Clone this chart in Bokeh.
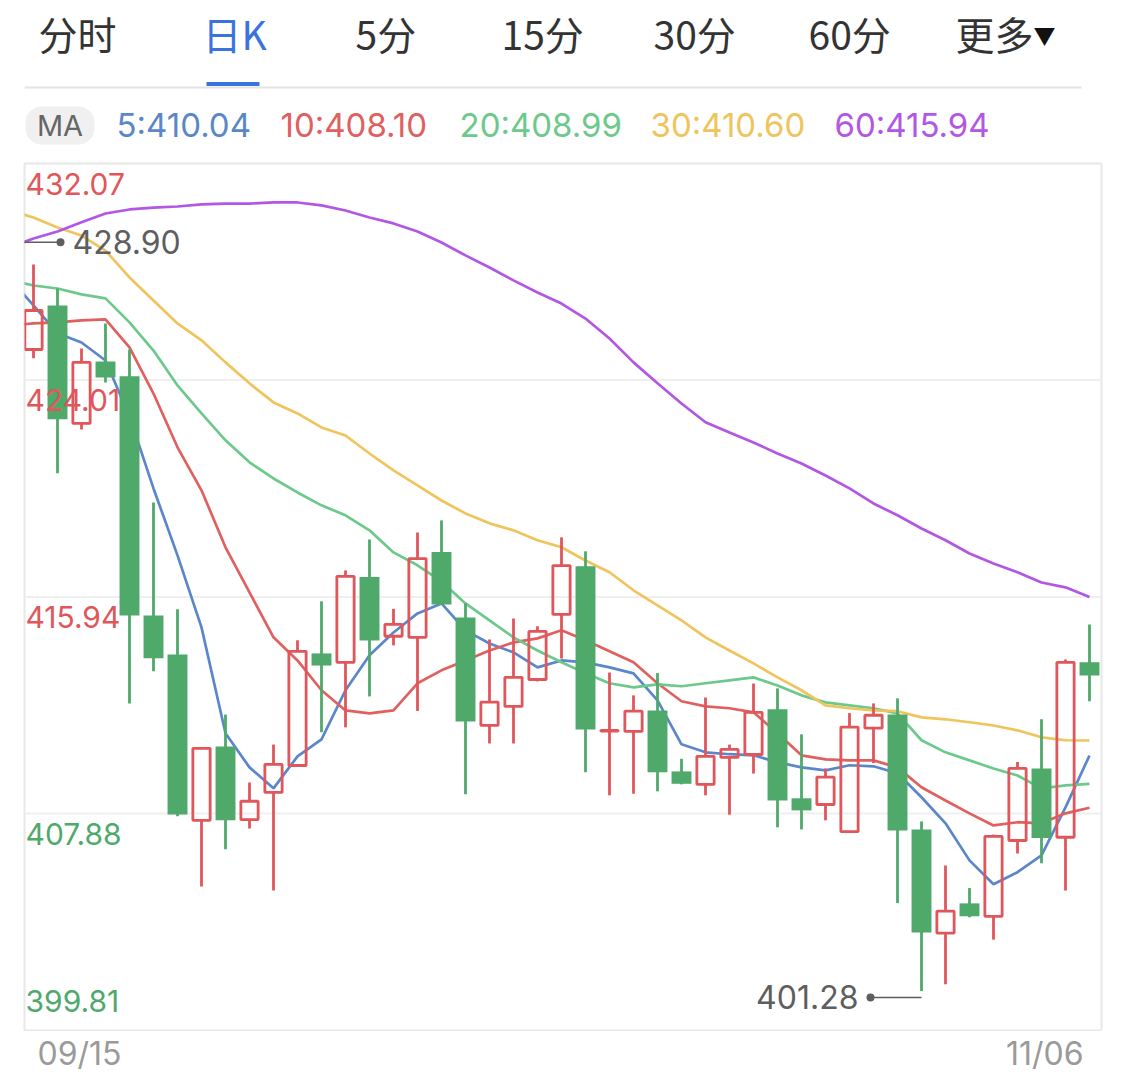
import numpy as np
from bokeh.plotting import figure
from bokeh.layouts import column
from bokeh.models import Range1d
from bokeh.core.properties import value
from bokeh.embed import file_html
from bokeh.resources import INLINE

# ------------------------------------------------------------------ data
TABS = ["分时", "日K", "5分", "15分", "30分", "60分", "更多"]
MORE_ARROW = "▼"
ACTIVE_TAB = 1

MA_PERIODS = [5, 10, 20, 30, 60]
MA_LAST = ["410.04", "408.10", "408.99", "410.60", "415.94"]

OPEN = [425.15, 426.79, 422.40, 424.70, 424.15, 415.25, 413.80, 407.63, 410.38, 407.66,
        408.67, 409.67, 413.84, 413.51, 416.68, 414.48, 414.44, 417.61, 415.18, 411.16,
        411.87, 412.87, 415.29, 417.08, 410.95, 410.94, 411.72, 409.45, 408.97, 409.97,
        410.08, 411.76, 408.45, 408.22, 407.21, 411.06, 411.57, 407.29, 403.43, 404.54,
        404.06, 406.88, 409.56, 407.00, 413.51]
HIGH = [428.31, 427.42, 425.19, 426.12, 425.15, 419.46, 415.48, 410.31, 411.57, 409.04,
        410.45, 414.33, 415.78, 416.93, 418.08, 415.50, 418.34, 418.79, 415.71, 414.36,
        415.14, 414.85, 418.16, 417.64, 413.13, 412.28, 413.11, 409.92, 412.20, 410.45,
        412.72, 412.54, 410.83, 409.56, 411.62, 411.98, 412.17, 407.59, 405.95, 405.11,
        407.10, 409.80, 411.39, 413.61, 414.92]
LOW = [424.82, 420.54, 422.17, 423.92, 411.98, 413.18, 407.78, 405.17, 406.55, 407.33,
       405.02, 409.67, 410.91, 411.09, 412.24, 414.14, 411.70, 415.66, 408.60, 410.49,
       410.49, 412.80, 413.65, 409.42, 408.56, 408.62, 408.71, 408.97, 408.56, 407.84,
       409.37, 407.37, 407.29, 407.63, 407.21, 409.76, 404.55, 401.28, 401.53, 404.02,
       403.19, 406.40, 406.03, 405.02, 412.06]
CLOSE = [426.60, 422.55, 424.67, 424.11, 415.25, 413.66, 407.85, 410.31, 407.63, 408.34,
         409.71, 413.92, 413.39, 416.71, 414.32, 414.92, 417.37, 415.66, 411.31, 412.03,
         412.95, 414.66, 417.11, 411.01, 410.98, 411.69, 409.42, 408.99, 410.01, 410.27,
         411.65, 408.37, 408.00, 409.24, 411.10, 411.54, 407.25, 403.46, 404.25, 404.06,
         407.03, 409.56, 406.97, 413.51, 413.02]

# moving averages, first value belongs to the day just left of the view (index -1)
MA5 = [427.79, 426.79, 425.75, 425.41, 424.74, 422.66, 419.98, 417.49, 414.81, 410.87,
       409.60, 408.82, 410.01, 410.64, 412.47, 413.77, 414.62, 415.33, 415.70, 414.70,
       414.21, 413.88, 413.32, 413.58, 413.51, 413.32, 413.10, 412.09, 410.46, 410.16,
       410.09, 410.05, 409.79, 409.60, 409.49, 409.68, 409.64, 409.38, 408.49, 407.52,
       406.14, 405.25, 405.70, 406.33, 408.11, 410.04]
MA10 = [426.04, 426.12, 426.16, 426.23, 426.27, 425.23, 423.51, 421.51, 419.91, 417.79,
        416.11, 414.44, 413.58, 412.47, 411.72, 411.61, 411.72, 412.73, 413.21, 413.58,
        413.95, 414.25, 414.40, 414.70, 414.33, 413.92, 413.51, 412.73, 412.06, 411.87,
        411.80, 411.65, 410.87, 410.05, 409.90, 409.86, 409.86, 409.60, 408.86, 408.37,
        407.89, 407.44, 407.56, 407.52, 407.89, 408.10]
MA20 = [427.72, 427.53, 427.42, 427.20, 427.05, 426.16, 425.11, 423.81, 422.77, 421.77,
        420.95, 420.35, 419.83, 419.35, 418.98, 418.42, 417.60, 417.12, 416.52, 415.70,
        415.07, 414.44, 413.95, 413.51, 413.10, 412.73, 412.58, 412.69, 412.62, 412.73,
        412.84, 412.95, 412.65, 412.28, 412.02, 411.91, 411.80, 411.61, 410.61, 410.16,
        409.86, 409.56, 409.30, 408.82, 408.93, 408.99]
MA30 = [430.32, 430.06, 429.69, 429.39, 428.83, 427.83, 426.97, 426.12, 425.49, 424.67,
        423.89, 423.18, 422.77, 422.25, 421.95, 421.28, 420.65, 420.09, 419.53, 419.05,
        418.68, 418.42, 418.05, 417.79, 417.30, 416.86, 416.19, 415.63, 415.07, 414.44,
        413.95, 413.47, 412.95, 412.47, 411.91, 411.80, 411.72, 411.69, 411.46, 411.39,
        411.28, 411.16, 410.98, 410.72, 410.61, 410.60]
MA60 = [428.95, 429.28, 429.54, 429.88, 430.21, 430.36, 430.43, 430.47, 430.55, 430.58,
        430.58, 430.62, 430.62, 430.51, 430.32, 430.06, 429.84, 429.54, 429.13, 428.65,
        428.20, 427.72, 427.27, 426.86, 426.30, 425.56, 424.67, 423.89, 423.14, 422.44,
        422.06, 421.69, 421.28, 420.91, 420.46, 419.98, 419.42, 418.98, 418.49, 418.05,
        417.56, 417.19, 416.86, 416.48, 416.30, 415.94]

Y_TICKS = [432.07, 424.01, 415.94, 407.88, 399.81]
Y_TICK_LABELS = ["432.07", "424.01", "415.94", "407.88", "399.81"]
DATE_LABELS = ["09/15", "11/06"]

MAX_HIGH = 428.90      # highest high, on the day just left of the view
MAX_HIGH_IDX = -1
MIN_LOW = min(LOW)
MIN_LOW_IDX = int(np.argmin(LOW))

# ------------------------------------------------------------------ style / layout
FL, FR = 24, 1101           # frame left / right in page pixels
FRAME_H = 867
W = FR + 16
RED = "#E0565A"
GREEN = "#4EA96B"
MA_COLORS = ["#5B87CA", "#E0605F", "#6DC98B", "#F0C45C", "#B257E3"]
NUM_FONT = value("Inter")
CJK_FONT = value("Noto Sans CJK SC")


def strip(height):
    f = figure(width=W, height=height, x_range=Range1d(FL, FR), y_range=Range1d(height, 0),
               x_axis_location=None, y_axis_location=None, toolbar_location=None,
               output_backend="svg", min_border_left=FL, min_border_right=W - FR,
               min_border_top=0, min_border_bottom=0, outline_line_color=None)
    f.grid.visible = False
    return f


# ------------------------------------------------------------------ header
HDR_H = 162
hdr = strip(HDR_H)

TAB_X = [38, 202, 355, 501, 653, 808, 955]
tab_colors = ["#3A72DE" if i == ACTIVE_TAB else "#333333" for i in range(len(TABS))]
hdr.text(x=TAB_X, y=[32] * len(TABS), text=TABS, text_color=tab_colors,
         text_font=CJK_FONT, text_font_size="39px", text_baseline="middle", text_align="left")
hdr.text(x=[1044], y=[33], text=[MORE_ARROW], text_color="#111111", text_font=CJK_FONT,
         text_font_size="22px", text_baseline="middle", text_align="center")
hdr.quad(left=[206], right=[259], top=[81.5], bottom=[85.5], fill_color="#3A72DE", line_color=None)
hdr.segment(x0=[FL], y0=[87], x1=[1081], y1=[87], line_color="#E4E4E4", line_width=2)


def rounded_rect(x0, y0, x1, y1, r, n=10):
    xs, ys = [], []
    for cx, cy, a0 in [(x1 - r, y0 + r, -90), (x1 - r, y1 - r, 0), (x0 + r, y1 - r, 90), (x0 + r, y0 + r, 180)]:
        a = np.radians(np.linspace(a0, a0 + 90, n))
        xs.extend(cx + r * np.cos(a))
        ys.extend(cy + r * np.sin(a))
    return xs, ys


px, py = rounded_rect(25, 106, 94, 144, 16)
hdr.patch(px, py, fill_color="#F0F0F0", line_color=None)
hdr.text(x=[59.5], y=[125], text=["MA"], text_color="#666666", text_font=NUM_FONT,
         text_font_size="29px", text_baseline="middle", text_align="center")

MA_TEXT_X = [116, 280, 459, 650, 834]
hdr.text(x=MA_TEXT_X, y=[124.5] * 5, text=[f"{p}:{v}" for p, v in zip(MA_PERIODS, MA_LAST)],
         text_color=MA_COLORS, text_font=NUM_FONT, text_font_size="33px",
         text_baseline="middle", text_align="left")

# ------------------------------------------------------------------ main chart
n = len(OPEN)
p = figure(width=W, height=FRAME_H + 2, x_range=Range1d(-0.375, n - 0.5),
           y_range=Range1d(Y_TICKS[-1], Y_TICKS[0]),
           x_axis_location=None, y_axis_location=None, toolbar_location=None,
           output_backend="svg", min_border_left=FL, min_border_right=W - FR,
           min_border_top=1, min_border_bottom=1,
           outline_line_color="#E8E8E8", outline_line_width=2)
p.grid.visible = False

# grid lines
for yv in Y_TICKS[1:-1]:
    p.segment(x0=[-0.375], y0=[yv], x1=[n - 0.5], y1=[yv], line_color="#EFEFEF", line_width=2)

# moving averages
ma_x = np.arange(-1, n)
for vals, col in zip([MA5, MA10, MA20, MA30, MA60], MA_COLORS):
    p.line(ma_x, vals, line_color=col, line_width=2.7)

# candles
x = np.arange(n)
o, h, l, c = (np.array(a) for a in (OPEN, HIGH, LOW, CLOSE))
up = c >= o
dn = ~up
top = np.maximum(o, c)
bot = np.minimum(o, c)

p.segment(x0=x[dn], y0=h[dn], x1=x[dn], y1=l[dn], line_color=GREEN, line_width=2.8)
p.vbar(x=x[dn], top=o[dn], bottom=c[dn], width=0.83, fill_color=GREEN, line_color=None)

p.segment(x0=x[up], y0=h[up], x1=x[up], y1=top[up], line_color=RED, line_width=2.8)
p.segment(x0=x[up], y0=bot[up], x1=x[up], y1=l[up], line_color=RED, line_width=2.8)
p.vbar(x=x[up], top=top[up], bottom=bot[up], width=0.72, fill_color=None,
       line_color=RED, line_width=2.8)

# y labels inside the plot
tick_colors = [RED, RED, RED, GREEN, GREEN]
tick_offsets = [20, 20, 20, 20, -30]
p.text(x=[-0.375] * 5, y=Y_TICKS, text=Y_TICK_LABELS, text_color=tick_colors,
       y_offset=tick_offsets, x_offset=1, text_font=NUM_FONT, text_font_size="30px",
       text_baseline="middle", text_align="left")

# high / low markers (drawn a few pixels outside the extreme, as the app does)
PX_PER_UNIT = FRAME_H / (Y_TICKS[0] - Y_TICKS[-1])
ANN_SHIFT = 6.5 / PX_PER_UNIT
ANN = 2.125
ANN_COL = "#5E5E5E"
hx = MAX_HIGH_IDX + ANN
lx = MIN_LOW_IDX - ANN
hy = MAX_HIGH + ANN_SHIFT
ly = MIN_LOW - ANN_SHIFT
p.segment(x0=[MAX_HIGH_IDX, MIN_LOW_IDX], y0=[hy, ly], x1=[hx, lx], y1=[hy, ly],
          line_color=ANN_COL, line_width=1.5)
p.scatter(x=[hx, lx], y=[hy, ly], size=8, fill_color=ANN_COL, line_color=None)
p.text(x=[hx], y=[hy], text=[f"{MAX_HIGH:.2f}"], text_color=ANN_COL, x_offset=12,
       text_font=NUM_FONT, text_font_size="32px", text_baseline="middle", text_align="left")
p.text(x=[lx], y=[ly], text=[f"{MIN_LOW:.2f}"], text_color=ANN_COL, x_offset=-12,
       text_font=NUM_FONT, text_font_size="32px", text_baseline="middle", text_align="right")

# ------------------------------------------------------------------ footer (dates)
FT_H = 46
ft = strip(FT_H)
ft.text(x=[37, 1083], y=[22, 22], text=DATE_LABELS, text_color="#9A9A9A",
        text_align=["left", "right"], text_font=NUM_FONT, text_font_size="32px",
        text_baseline="middle")

layout = column(hdr, p, ft, spacing=0)
open("out.html", "w").write(file_html(layout, INLINE))
